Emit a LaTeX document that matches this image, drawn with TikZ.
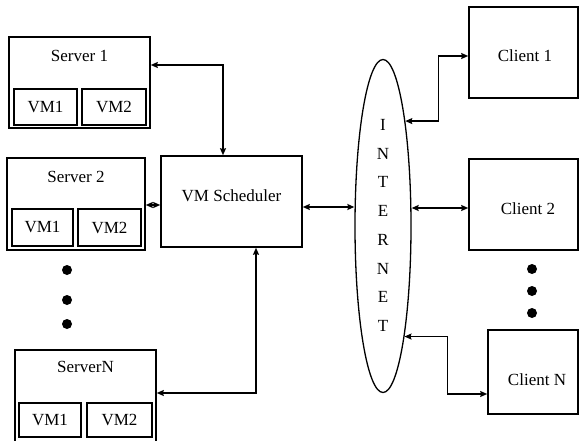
\documentclass[tikz,border=0pt]{standalone}
\usepackage{fontspec}
\setmainfont{Liberation Serif}
\usetikzlibrary{shapes.geometric,arrows.meta}

\tikzset{
    box/.style={draw,line width=1.6pt,inner sep=0pt},
    vmbox/.style={draw,line width=1.6pt,inner sep=0pt,minimum height=36pt},
    link/.style={<->,line width=1.3pt},
}

\begin{document}
\begin{tikzpicture}[x=1pt,y=-1pt,>={Stealth[length=7pt,width=6pt,inset=1pt]},font=\fontsize{17}{20}\selectfont]
\useasboundingbox (0,0) rectangle (581,441);

% servers
\node[box,minimum width=141pt,minimum height=91pt] (s1) at (79.5,82.5) {};
\node (s1t) at ([yshift=-20pt]s1.north) {Server 1};
\node[vmbox,minimum width=63pt] (s1a) at (45.5,107) {VM1};
\node[vmbox,minimum width=64pt] (s1b) at (114,107) {VM2};

\node[box,minimum width=138pt,minimum height=92pt] (s2) at (76,204) {};
\node (s2t) at ([yshift=-20pt]s2.north) {Server 2};
\node[vmbox,minimum width=61pt,minimum height=37pt] (s2a) at (42.5,227.5) {VM1};
\node[vmbox,minimum width=63pt,minimum height=37pt] (s2b) at (109.5,227.5) {VM2};

\node[box,minimum width=141pt,minimum height=100pt] (sn) at (85.5,400) {};
\node (snt) at ([yshift=-18pt]sn.north) {ServerN};
\node[vmbox,minimum width=62pt,minimum height=34pt] (sna) at (50,420) {VM1};
\node[vmbox,minimum width=65pt,minimum height=34pt] (snb) at (119.5,420) {VM2};

\foreach \y in {270,300,324}
    \fill (67,\y) circle (5);

% scheduler and internet
\node[box,minimum width=141pt,minimum height=91pt] (sched) at (231.5,201.5) {};
\node (schedt) at (231.5,196) {VM Scheduler};

\node[draw,ellipse,line width=1.3pt,inner sep=0pt,minimum width=56pt,minimum height=333pt] (inet) at (383,226) {};
\foreach \ch [count=\i] in {I,N,T,E,R,N,E,T}
    \node (l\i) at (383,{125+28.7*(\i-1)}) {\ch};

% clients
\node[box,minimum width=109pt,minimum height=91pt] (c1) at (523.5,52.5) {};
\node (c1t) at (525,56) {Client 1};
\node[box,minimum width=109pt,minimum height=91pt] (c2) at (523.5,204.5) {};
\node (c2t) at (528,209) {Client 2};
\node[box,minimum width=90pt,minimum height=84pt] (cn) at (533,372) {};
\node (cnt) at (537,380) {Client N};

\foreach \y in {269,291,313}
    \fill (532,\y) circle (5);

% links
\draw[link] ([yshift=17.5pt]s1.east) -| ([xshift=-8.5pt]sched.north);
\draw[link] ([yshift=-1pt]s2.east) -- ([yshift=-3.5pt]sched.west);
\draw[link] ([yshift=7pt]sn.east) -| ([xshift=24.5pt]sched.south);
\draw[link] ([yshift=-5.5pt]sched.east) -- ([yshift=-5.5pt]sched.east -| inet.west);
\draw[link] (inet.78) -- ++(33,0) |- ([yshift=-3.5pt]c1.west);
\draw[link] ([yshift=-3.5pt]c2.west -| inet.east) -- ([yshift=-3.5pt]c2.west);
\draw[link] (inet.-79) -- ++(43,0) |- ([yshift=-22pt]cn.west);
\end{tikzpicture}
\end{document}
